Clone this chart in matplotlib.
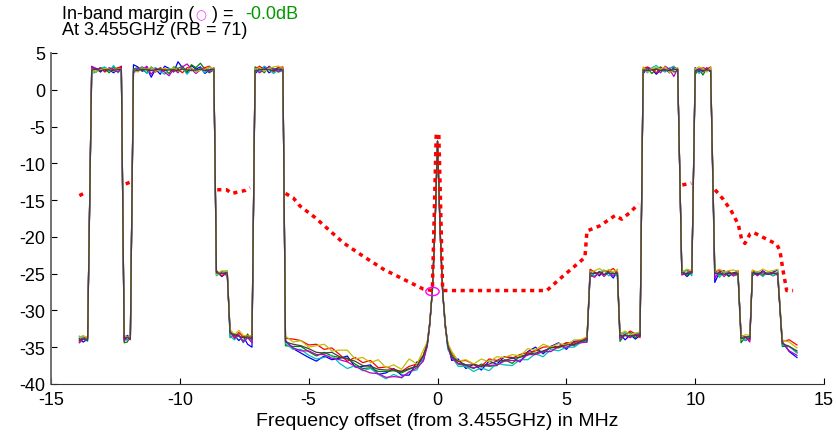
import matplotlib
matplotlib.use('Agg')
import matplotlib.pyplot as plt
import numpy as np
from matplotlib.markers import MarkerStyle
from matplotlib.transforms import Affine2D

plt.rcParams['font.family'] = ['Liberation Sans', 'DejaVu Sans']
plt.rcParams['axes.unicode_minus'] = False

# frequency offsets (MHz) of the measured points
freq = [
    -13.90, -13.75, -13.58,
    -13.42, -13.25, -13.08, -12.91, -12.74, -12.57, -12.40, -12.27,
    -12.16, -12.04, -11.92,
    -11.80, -11.63, -11.46, -11.28, -11.11, -10.94, -10.76, -10.59, -10.42, -10.24,
    -10.07, -9.90, -9.72, -9.55, -9.38, -9.20, -9.03, -8.86, -8.68,
    -8.58, -8.37, -8.16,
    -8.05, -7.88, -7.71, -7.54, -7.37, -7.20,
    -7.08, -6.90, -6.72, -6.54, -6.36, -6.18, -6.00,
    -5.90, -5.60, -5.30, -5.00, -4.70, -4.40, -4.10, -3.80, -3.50, -3.20, -2.90, -2.60,
    -2.30, -2.00, -1.70, -1.40, -1.10, -0.80, -0.55, -0.40, -0.30, -0.20, -0.10,
    0.00, 0.10, 0.20, 0.30, 0.40, 0.55, 0.80, 1.10, 1.40, 1.70, 2.00, 2.30, 2.60,
    2.90, 3.20, 3.50, 3.80, 4.10, 4.40, 4.70, 5.00, 5.30, 5.55, 5.80,
    5.92, 6.10, 6.28, 6.46, 6.64, 6.82, 6.98,
    7.08, 7.28, 7.48, 7.68, 7.86,
    7.98, 8.15, 8.32, 8.49, 8.66, 8.83, 9.00, 9.17, 9.32,
    9.48, 9.68, 9.87,
    10.00, 10.15, 10.30, 10.45, 10.60,
    10.76, 10.94, 11.12, 11.30, 11.48, 11.66,
    11.78, 11.95, 12.12,
    12.22, 12.42, 12.62, 12.82, 13.02, 13.20,
    13.38, 13.65, 13.95,
]

# mean level of the traces (dB)
level = [
    -34.0, -34.0, -34.0,
    2.6, 2.6, 2.6, 2.6, 2.6, 2.6, 2.6, 2.6,
    -33.8, -33.8, -33.8,
    2.6, 2.6, 2.6, 2.6, 2.6, 2.6, 2.6, 2.6, 2.6, 2.6,
    2.6, 2.6, 2.6, 2.6, 2.6, 2.6, 2.6, 2.6, 2.6,
    -25.0, -25.0, -25.0,
    -33.2, -33.5, -33.5, -33.8, -33.8, -34.0,
    2.6, 2.6, 2.6, 2.6, 2.6, 2.6, 2.6,
    -34.3, -34.7, -35.0, -35.2, -35.4, -35.6, -35.8, -36.2, -36.6, -37.0, -37.3, -37.6,
    -37.9, -38.1, -38.2, -38.2, -37.9, -37.4, -36.3, -34.6, -31.8, -27.3, -19.0,
    -7.0, -19.0, -27.5, -32.0, -34.8, -36.2, -37.0, -37.4, -37.5, -37.5, -37.3, -37.0, -36.8,
    -36.6, -36.4, -36.0, -35.7, -35.5, -35.2, -35.0, -34.8, -34.6, -34.3, -34.0,
    -25.0, -25.0, -25.0, -25.0, -25.0, -25.0, -25.0,
    -33.5, -33.5, -33.5, -33.5, -33.5,
    2.6, 2.6, 2.6, 2.6, 2.6, 2.6, 2.6, 2.6, 2.6,
    -25.0, -25.0, -25.0,
    2.6, 2.6, 2.6, 2.6, 2.6,
    -25.0, -25.0, -25.0, -25.0, -25.0, -25.0,
    -33.8, -33.8, -33.8,
    -25.0, -25.0, -25.0, -25.0, -25.0, -25.0,
    -34.5, -35.0, -35.5,
]

# per-trace deviation from the mean level, in tenths of a dB
dev_blue = [
    2, -3, 1,
    5, 3, -2, 4, 1, -3, 2, 6,
    -2, 4, 1,
    8, 5, -1, 4, -9, 2, -5, 6, 3, -2,
    12, 4, -3, 7, 2, 5, -4, 1, 3,
    3, -4, 2,
    2, 1, -6, 3, -8, -10,
    -4, 2, 5, -3, 1, 4, 3,
    2, -5, -8, -12, -15, -6, -9, -3, 4, -7, -3, 2,
    -8, -4, 3, -6, -9, 4, -5, 1, 2, 0, 1,
    0, 1, 0, -2, 3, -6, 4, -5, 2, -6, 4, -3, 5,
    2, -6, 4, 7, -4, 3, 6, -5, 4, 2, 3,
    -5, 2, -3, 4, 1, -6, 3,
    3, -5, 2, -4, 1,
    -4, 3, 2, -5, 1, 2, -3, 4, 1,
    3, -4, 2,
    4, -2, 1, 3, -2,
    -12, 2, 4, -3, 1, 3,
    2, -3, 1,
    3, -2, 4, -1, 2, 5,
    2, -6, -9,
]
dev_green = [
    -3, 2, 4,
    1, -2, 4, 2, -3, 5, 1, 0,
    -6, -5, 3,
    2, 4, 1, -3, 5, -1, 3, 2, -4, 5,
    3, 6, -2, 8, 4, 10, 2, -3, 1,
    -2, 3, 1,
    -5, 3, 1, -4, 6, -2,
    5, 2, -3, 6, 1, -2, 0,
    -5, -2, 1, -4, -8, -1, -4, -2, 1, -3, -6, -2,
    -4, -2, 0, -3, -1, -2, 2, -1, 0, 1, 0,
    0, -2, 0, 1, -2, 2, -3, -1, -4, 2, -3, -5, 1,
    -6, 2, -1, 3, -2, 2, -1, 4, -2, 1, -3,
    2, -4, 3, -2, 5, 1, -3,
    -7, 3, 5, -2, 4,
    1, 3, -4, 2, 5, -1, 3, -2, 0,
    4, -2, 1,
    -5, 2, -6, 3, 1,
    3, -2, 2, -4, 1, -2,
    -6, 2, 3,
    -3, 2, -2, 1, -3, 0,
    -4, 1, -2,
]
dev_red = [
    -1, 4, 1,
    3, 1, 4, -2, 3, 2, 4, 5,
    3, -2, -1,
    -3, 2, 5, 1, 3, -2, 4, 1, 2, -1,
    2, -3, 4, 3, -1, 2, 4, 6, 0,
    4, -3, 2,
    3, -2, 5, 2, 4, 3,
    2, 6, 1, 3, -2, 4, 5,
    5, 8, 9, 5, 8, 3, 7, 2, -3, 6, 2, 8,
    1, 4, 2, -1, 3, 1, 2, 0, 1, 0, 0,
    0, 0, 1, 3, -1, 5, 1, 6, 2, -1, 7, 2, 5,
    1, 4, 3, 2, 5, 3, 1, 4, 2, 3, 1,
    6, 2, -1, 4, 3, 7, 1,
    5, 2, 7, 3, -2,
    3, 5, 2, -3, 4, 1, 3, 5, 2,
    2, 5, 1,
    3, 1, 4, 2, 5,
    2, 5, 1, 3, -2, 4,
    3, 2, -2,
    4, 1, -3, 2, 1, -2,
    3, 10, 8,
]
dev_cyan = [
    5, 3, -2,
    -4, -2, 3, 5, -1, 7, -3, 2,
    1, -3, 4,
    -3, 1, 5, -4, 2, 4, -1, -5, 3, 2,
    -2, 4, -5, 2, 0, 3, -3, 5, -1,
    -3, 2, 4,
    -3, -5, 2, -6, 3, -2,
    3, -2, 6, 2, -4, 1, -2,
    -2, -6, -3, -9, -12, -8, -3, -10, -13, -5, -9, -3,
    -8, -12, -5, -10, -4, -7, -2, -3, -1, 0, -1,
    0, -1, 0, -2, -5, -1, -6, -2, -8, -3, -9, -2, -6,
    -9, -3, -7, -2, -8, -1, -5, -2, -4, -1, -2,
    3, -4, 2, 5, -3, 1, -2,
    2, 5, -2, 4, 3,
    2, -3, 4, 7, 1, -2, 3, 6, -1,
    3, 4, -3,
    3, -4, 2, -1, 4,
    4, -5, 2, 1, -3, -2,
    4, -3, 2,
    -2, 3, -4, 2, -3, 1,
    -2, 1, -3,
]
dev_magenta = [
    -4, 1, 3,
    6, 2, 3, -1, 4, 1, -2, 3,
    -4, 2, -2,
    -2, 3, 1, 6, -5, 3, 1, -2, -7, 2,
    -3, 5, 9, 2, -4, 1, 3, -2, 4,
    2, 1, -3,
    4, -3, 2, -5, 1, -4,
    1, -3, 2, 5, 3, -1, 2,
    1, -4, -5, -3, -6, -4, -7, -5, -4, -6, -8, -9,
    -7, -10, -8, -9, -5, -4, -6, -3, -2, 0, 1,
    0, 1, -1, -2, -1, -3, -2, 0, -3, -1, -2, -4, -1,
    -2, -5, 0, -3, -1, -4, 1, -2, 0, -1, -3,
    -2, -5, 3, -4, 2, -3, 4,
    -3, 1, -2, 3, 2,
    -2, 4, 1, 3, -3, 6, 2, -8, 3,
    -2, 1, 3,
    -3, 3, -2, 4, -1,
    -6, 3, -4, 2, -3, 1,
    4, 2, -5,
    2, -3, 3, -1, 2, -2,
    2, -5, -6,
]
dev_yellow = [
    3, 6, 2,
    2, -2, 1, 3, 2, -1, 3, 1,
    5, 1, 3,
    1, -2, 3, 2, 4, -1, 2, 3, 1, 4,
    -1, 2, 1, 4, -2, 1, 2, 4, 3,
    -2, 4, 3,
    6, 2, 8, 4, 3, 6,
    2, 4, -1, 3, 5, 6, 3,
    8, 4, 9, 2, 6, 10, 3, 8, 12, 4, 9, 5,
    12, 3, 8, 2, 13, 1, 9, 3, 2, 1, 0,
    0, 0, 2, 1, 4, 6, 1, 7, 2, 9, 3, 7, 4,
    6, 2, 8, 3, 9, 2, 5, 1, 6, 3, 4,
    2, 4, 7, 3, 5, 2, 6,
    3, 7, 2, 4, 6,
    5, -2, 3, 4, 2, 5, -3, 1, 4,
    2, 6, 4,
    2, 5, 3, -2, 4,
    3, 6, 2, 4, 5, 3,
    2, 5, 4,
    5, 2, 6, 3, 4, 6,
    5, 7, 4,
]
dev_dark = [
    0, 1, -1,
    1, 2, 0, 1, 1, 0, 2, 1,
    0, 1, 0,
    1, 0, 2, 1, 0, 1, 2, 0, 1, 1,
    0, 2, 1, 0, 1, 2, 0, 1, 2,
    1, 0, 1,
    1, 2, 0, 1, 2, 1,
    0, 1, 2, 1, 0, 2, 1,
    0, 1, 2, 0, -3, -2, 1, -1, 0, 1, -2, 0,
    -1, 0, 1, -1, 0, -2, 1, 0, 1, 0, 0,
    0, 0, 0, 1, 0, -1, 1, 0, 1, -1, 0, 1, 0,
    1, 0, 1, -1, 0, 1, 0, 1, 0, 1, 0,
    1, 0, 2, -1, 1, 0, 1,
    0, 1, 0, 1, 0,
    1, 0, 1, 2, 0, 1, 0, 1, 2,
    1, 0, 1,
    0, 1, 0, 1, 0,
    0, 1, -1, 0, 1, 0,
    0, 1, 0,
    1, 0, 1, -1, 0, 1,
    0, 1, 0,
]

# emission mask (NaN = gap where the mask is not drawn)
nan = np.nan
mask_freq = [-13.90, -13.68, nan,
             -12.10, -11.95, nan,
             -8.55, -8.18, -7.99, -7.73, -7.47, -7.28, nan,
             -5.90, -5.60, -5.34, -4.76, -4.20, -3.66, -2.90, -2.10, -1.07, -0.55, -0.20,
             -0.05, 0.05, 0.20, 4.24, 4.75, 5.72, 5.80, 6.30, 6.89, 7.15, 7.50, 7.80, nan,
             9.50, 9.85, nan,
             10.77, 11.09, 11.42, 11.67, 11.80, 11.93, 12.13, 12.26, 12.65, 13.16, 13.29,
             13.40, 13.55, 13.80]
mask_level = [-14.4, -14.0, nan,
              -12.8, -12.6, nan,
              -13.6, -13.6, -14.1, -13.9, -13.7, -13.3, nan,
              -14.1, -14.7, -15.8, -17.35, -19.1, -20.8, -22.6, -24.4, -26.2, -27.1, -27.3,
              -6.0, -6.0, -27.3, -27.3, -25.7, -22.8, -19.2, -18.5, -17.1, -17.6, -16.6, -15.5, nan,
              -12.95, -12.7, nan,
              -13.6, -14.9, -16.6, -18.3, -20.3, -20.9, -19.6, -19.4, -20.1, -21.0, -21.9,
              -24.4, -27.3, -27.3]

margin_freq = -0.20
margin_level = -27.3

traces = [dev_blue, dev_green, dev_red, dev_cyan, dev_magenta, dev_yellow, dev_dark]
colors = [(0, 0, 1), (0, 0.5, 0), (1, 0, 0), (0, 0.75, 0.75),
          (0.75, 0, 0.75), (0.75, 0.75, 0), (0.25, 0.25, 0.25)]

for d in traces:
    assert len(d) == len(freq) == len(level), len(d)

fig = plt.figure(figsize=(8.36, 4.35), dpi=100)
ax = fig.add_axes([0.061, 0.115, 0.9247, 0.761])

base = np.array(level)
for dev, c in zip(traces, colors):
    ax.plot(freq, base + np.array(dev) / 10.0, color=c, lw=0.9)

ax.plot(mask_freq, mask_level, color='red', lw=2.5, linestyle=(0, (1.2, 1.3)),
        dash_capstyle='butt', zorder=5)

ell = MarkerStyle('o', fillstyle='none', transform=Affine2D().scale(1.6, 1.0))
ax.plot([margin_freq], [margin_level], marker=ell, color=(1, 0, 1),
        markersize=6, mew=1.0, linestyle='none', zorder=6)

ax.set_xlim(-15, 15)
ax.set_ylim(-40, 5)
ax.set_xticks(range(-15, 16, 5))
ax.set_yticks(range(-40, 6, 5))
ax.tick_params(direction='in', length=4, width=0.8, labelsize=13)
ax.tick_params(axis='x', pad=5)
ax.tick_params(axis='y', pad=4)
for s in ('top', 'right'):
    ax.spines[s].set_visible(False)
ax.spines['left'].set_color('#666666')
ax.spines['left'].set_linewidth(1.3)
ax.spines['bottom'].set_color('#333333')
ax.set_xlabel('Frequency offset (from 3.455GHz) in MHz', fontsize=14, labelpad=3)

# two-line heading with coloured pieces
fig.canvas.draw()
r = fig.canvas.get_renderer()
W, H = fig.bbox.width, fig.bbox.height
x = 62
parts = [('In-band margin (', 'black', 13, ['Liberation Sans']),
         ('\u25cb', (1, 0.2, 1), 9, ['DejaVu Sans']),
         (' ) =  ', 'black', 13, ['Liberation Sans']),
         ('-0.0dB', (0, 0.6, 0), 13, ['Liberation Sans'])]
for s, c, fs, fam in parts:
    t = fig.text(x / W, (H - 19) / H, s, color=c, fontsize=fs, family=fam, va='baseline')
    x = t.get_window_extent(r).x1 + 1
fig.text(62 / W, (H - 35) / H, 'At 3.455GHz (RB = 71)', fontsize=13, va='baseline')

fig.savefig('out.png', dpi=100)
